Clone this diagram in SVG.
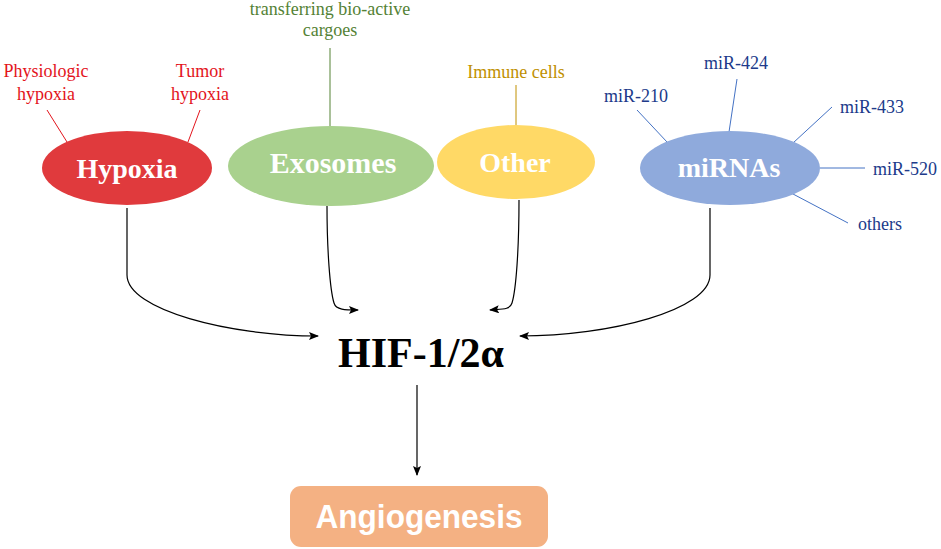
<svg xmlns="http://www.w3.org/2000/svg" width="941" height="549" viewBox="0 0 941 549">
<style>
.lbl{font-family:"Liberation Serif","Times New Roman",serif;font-size:18px;text-anchor:middle}
.nt{font-family:"Liberation Serif","Times New Roman",serif;font-size:28px;font-weight:bold;fill:#fff;text-anchor:middle}
.red{fill:#e3141c}
.grn{fill:#548235}
.ylw{fill:#c09000}
.blu{fill:#203a8a}
.conn{fill:none;stroke:#000;stroke-width:1.2}
</style>
<defs>
<marker id="ah" markerWidth="10" markerHeight="8" refX="9" refY="4" orient="auto" markerUnits="userSpaceOnUse">
<path d="M0,0 L10,4 L0,8 L2,4 Z" fill="#000"/>
</marker>
</defs>
<g id="hypoxia">
<line x1="47" y1="110" x2="67" y2="142" stroke="#e3141c" stroke-width="1"/>
<line x1="200" y1="110" x2="188" y2="142" stroke="#e3141c" stroke-width="1"/>
<text class="lbl red" x="46" y="77">Physiologic</text>
<text class="lbl red" x="46" y="100">hypoxia</text>
<text class="lbl red" x="200" y="77">Tumor</text>
<text class="lbl red" x="200" y="100">hypoxia</text>
<ellipse cx="127" cy="168" rx="85" ry="37" fill="#e03a3d"/>
<text class="nt" x="127" y="178">Hypoxia</text>
</g>
<g id="exosomes">
<line x1="330" y1="48" x2="330" y2="126" stroke="#548235" stroke-width="1"/>
<text class="lbl grn" x="330" y="15">transferring  bio-active</text>
<text class="lbl grn" x="330" y="36">cargoes</text>
<ellipse cx="331" cy="166" rx="103" ry="40" fill="#a9d18e"/>
<text class="nt" x="333" y="173" style="font-size:30px">Exosomes</text>
</g>
<g id="other">
<line x1="516" y1="85" x2="516" y2="125" stroke="#c09000" stroke-width="1"/>
<text class="lbl ylw" x="516" y="78">Immune cells</text>
<ellipse cx="516" cy="162" rx="79" ry="37" fill="#ffd966"/>
<text class="nt" x="515" y="172">Other</text>
</g>
<g id="mirnas">
<g stroke="#4472c4" stroke-width="1">
<line x1="637" y1="110" x2="667" y2="142"/>
<line x1="737" y1="79" x2="729" y2="132"/>
<line x1="832" y1="107" x2="793" y2="143"/>
<line x1="820" y1="168" x2="865" y2="168"/>
<line x1="793" y1="194" x2="848" y2="223"/>
</g>
<ellipse cx="730" cy="168" rx="90" ry="37" fill="#8faadc"/>
<text class="nt" x="729" y="177">miRNAs</text>
<text class="lbl blu" x="636" y="102">miR-210</text>
<text class="lbl blu" x="736" y="69">miR-424</text>
<text class="lbl blu" x="872" y="113">miR-433</text>
<text class="lbl blu" x="905" y="175">miR-520</text>
<text class="lbl blu" x="880" y="230">others</text>
</g>
<g id="hif">
<text x="421" y="367" text-anchor="middle" style="font-family:'Liberation Serif','Times New Roman',serif;font-size:42px;font-weight:bold;fill:#000">HIF-1/2α</text>
</g>
<g id="angiogenesis">
<rect x="290" y="486" width="258" height="61" rx="11" fill="#f4b183"/>
<text x="419" y="528" text-anchor="middle" textLength="207" lengthAdjust="spacingAndGlyphs" style="font-family:'Liberation Sans',Arial,sans-serif;font-size:34px;font-weight:bold;fill:#fff">Angiogenesis</text>
</g>
<g id="connectors">
<path class="conn" d="M127,208 L127,275 C127,310 230,336 318,336" marker-end="url(#ah)"/>
<path class="conn" d="M327,206 C327,250 330,290 334,303 C336,310 345,310 358,310" marker-end="url(#ah)"/>
<path class="conn" d="M519,200 C519,250 516,290 512,303 C510,310 502,309 490,310" marker-end="url(#ah)"/>
<path class="conn" d="M710,208 L710,275 C710,310 610,336 520,336" marker-end="url(#ah)"/>
<path class="conn" d="M417,385 L417,475" marker-end="url(#ah)"/>
</g>
</svg>
